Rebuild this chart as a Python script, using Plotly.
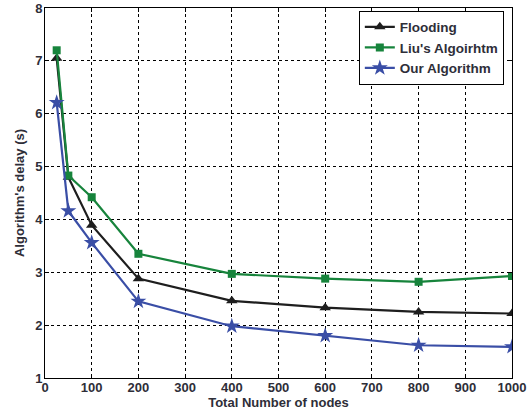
import plotly.graph_objects as go

nodes = [25, 50, 100, 200, 400, 600, 800, 1000]
flooding = [7.05, 4.80, 3.89, 2.88, 2.46, 2.33, 2.25, 2.22]
liu = [7.20, 4.83, 4.42, 3.35, 2.97, 2.88, 2.82, 2.93]
ours = [6.21, 4.16, 3.56, 2.45, 1.98, 1.80, 1.62, 1.59]

x_ticks = [0, 100, 200, 300, 400, 500, 600, 700, 800, 900, 1000]
y_ticks = [1, 2, 3, 4, 5, 6, 7, 8]

series = [
    ("Flooding", flooding, "#1e1e1e", "triangle-up", 10),
    ("Liu's Algoirhtm", liu, "#17843c", "square", 8),
    ("Our Algorithm", ours, "#3a4ea6", "star", 12),
]

FAM = "Liberation Sans, Arial, sans-serif"
TXT = "#2e2e38"

fig = go.Figure()
for name, vals, color, sym, size in series:
    fig.add_trace(go.Scatter(
        x=nodes, y=vals, name=name, mode="lines+markers",
        line=dict(color=color, width=2.2),
        marker=dict(symbol=sym, size=size, color=color),
    ))

axis_common = dict(
    showline=True, linecolor="black", linewidth=1, mirror="allticks",
    showgrid=True, gridcolor="black", griddash="dot", gridwidth=1,
    ticks="inside", ticklen=4, tickcolor="black", zeroline=False,
    ticklabeloverflow="allow",
    tickfont=dict(family=FAM, size=13, color=TXT, weight="bold"),
)
fig.update_xaxes(range=[0, 1000], tickvals=x_ticks, ticklabelstandoff=-3, **axis_common,
                 title=dict(text="Total Number of nodes", standoff=3,
                            font=dict(family=FAM, size=13, color=TXT, weight="bold")))
fig.update_yaxes(range=[1, 8], tickvals=y_ticks, ticklabelstandoff=-1, **axis_common,
                 title=dict(text="Algorithm's delay (s)", standoff=7,
                            font=dict(family=FAM, size=13, color=TXT, weight="bold")))

fig.update_layout(
    width=528, height=413,
    margin=dict(l=45, r=16, t=8, b=35, autoexpand=False),
    paper_bgcolor="white", plot_bgcolor="white",
    legend=dict(
        x=0.672, y=0.993, xanchor="left", yanchor="top",
        bgcolor="white", bordercolor="black", borderwidth=1,
        font=dict(family=FAM, size=13.5, color=TXT, weight="bold"),
        tracegroupgap=0, itemwidth=30,
    ),
)

fig.write_html("out.html", config={"displayModeBar": False},
               post_script="document.body.style.margin='0px';")
